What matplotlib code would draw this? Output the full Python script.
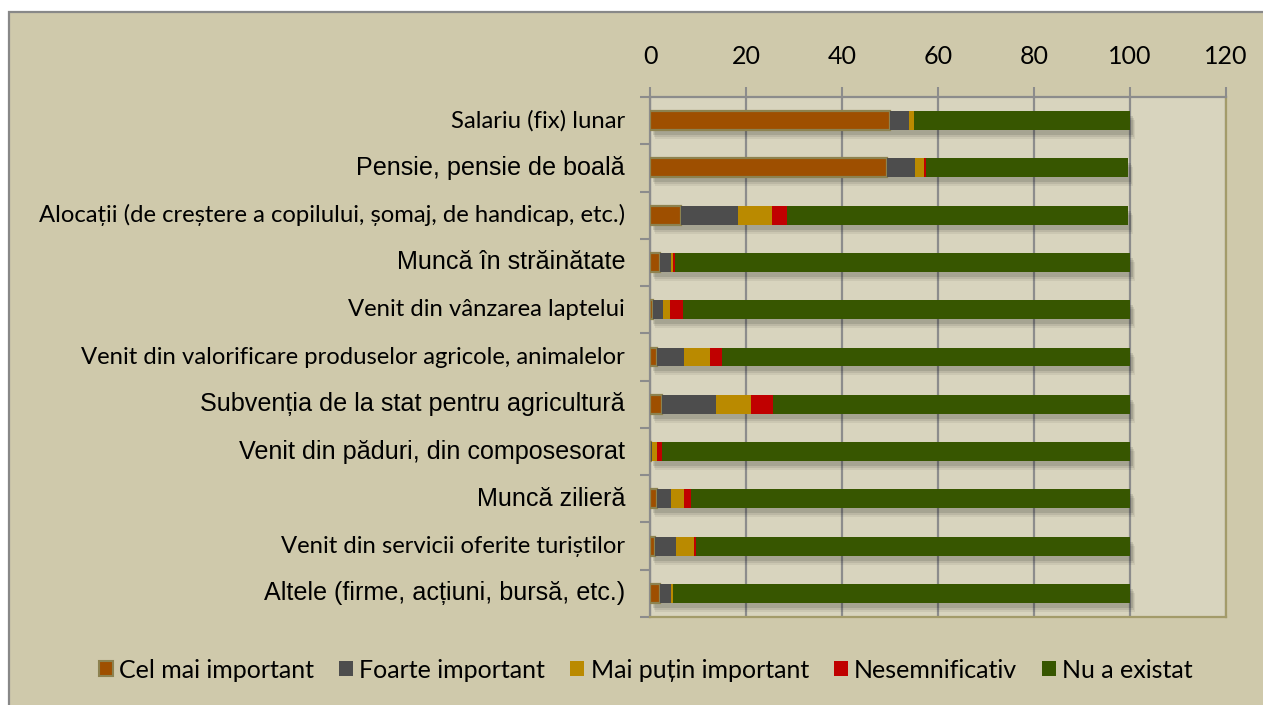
import matplotlib
matplotlib.use("Agg")
import matplotlib.pyplot as plt
import matplotlib.transforms as mtransforms
from matplotlib.patches import Rectangle, Patch
import numpy as np

categories = [
    "Salariu (fix) lunar",
    "Pensie, pensie de boală",
    "Alocații (de creștere a copilului, șomaj, de handicap, etc.)",
    "Muncă în străinătate",
    "Venit din vânzarea laptelui",
    "Venit din valorificare produselor agricole, animalelor",
    "Subvenția de la stat pentru agricultură",
    "Venit din păduri, din composesorat",
    "Muncă zilieră",
    "Venit din servicii oferite turiștilor",
    "Altele (firme, acțiuni, bursă, etc.)",
]
# which labels are set in the Arial-like face (others Calibri-like)
arial_labels = [False, True, False, True, False, False, True, True, True, False, True]

series_names = ["Cel mai important", "Foarte important", "Mai puțin important",
                "Nesemnificativ", "Nu a existat"]
cel_mai_important = [50.0, 49.4, 6.4, 2.1, 0.7, 1.4, 2.5, 0.2, 1.4, 1.0, 2.1]
foarte_important = [4.0, 5.9, 12.0, 2.3, 2.1, 5.7, 11.3, 0.2, 3.0, 4.4, 2.3]
mai_putin_important = [1.0, 1.7, 7.1, 0.3, 1.4, 5.4, 7.3, 1.0, 2.7, 3.8, 0.3]
nesemnificativ = [0.0, 0.4, 3.0, 0.5, 2.6, 2.6, 4.6, 1.0, 1.4, 0.3, 0.0]
nu_a_existat = [45.0, 42.2, 71.1, 94.8, 93.2, 84.9, 74.3, 97.6, 91.5, 90.5, 95.3]

xticks = [0, 20, 40, 60, 80, 100, 120]

colors = ["#9E4F00", "#4D4D4D", "#BA8A00", "#C00000", "#375600"]
outer_bg = "#CFC9AB"
plot_bg = "#D8D4BE"

W, H = 1263, 705
fig = plt.figure(figsize=(W / 100, H / 100), dpi=100)
fig.patch.set_facecolor("white")
# chart frame (white strip at top/left like the source; extends past right/bottom)
frame = Rectangle((9 / W, -0.1), 1.2, 1.1 - 12 / H, transform=fig.transFigure,
                  facecolor=outer_bg, edgecolor="#888888", linewidth=1.6, zorder=-10)
fig.patches.append(frame)

ax = fig.add_axes([650 / W, 1 - 617 / H, (1226 - 650) / W, (617 - 97) / H])
ax.set_facecolor(plot_bg)

series = [cel_mai_important, foarte_important, mai_putin_important, nesemnificativ, nu_a_existat]
y = np.arange(len(categories))
h = 0.40

# soft shadows
totals = np.sum(np.array(series), axis=0)
for k, (dx, dy, a) in enumerate([(0.03, -0.05, 0.10), (0.04, -0.07, 0.08), (0.05, -0.09, 0.06)]):
    tr = ax.transData + mtransforms.ScaledTranslation(dx, dy, fig.dpi_scale_trans)
    ax.barh(y, totals, height=h, left=0, color="black", alpha=a, transform=tr,
            zorder=2, linewidth=0)

left = np.zeros(len(categories))
for i, vals in enumerate(series):
    vals = np.array(vals)
    if i == 0:
        ax.barh(y, vals, height=h, left=left, color=colors[i], edgecolor="#8C8250",
                linewidth=1.6, zorder=3)
    else:
        ax.barh(y, vals, height=h, left=left, color=colors[i], linewidth=0, zorder=3)
    left += vals

ax.set_xlim(0, 120)
ax.set_ylim(len(categories) - 0.5, -0.5)
ax.set_xticks(xticks)
ax.xaxis.tick_top()
ax.tick_params(axis="x", which="major", length=7, width=1.5, color="#8C8C8C",
               pad=14, labelsize=18)
for lab in ax.get_xticklabels():
    lab.set_fontfamily("Lato")

ax.grid(axis="x", color="#8C8C8C", linewidth=1.6, zorder=1)
ax.set_axisbelow(True)

ax.set_yticks(y)
ax.set_yticklabels([])
ax.tick_params(axis="y", which="major", length=0, pad=0)
ax.set_yticks(np.arange(-0.5, len(categories) + 0.5, 1), minor=True)
ax.tick_params(axis="y", which="minor", length=7, width=1.5, color="#8C8C8C")

for yi, txt, is_arial in zip(y, categories, arial_labels):
    if is_arial:
        ax.text(-0.043, yi, txt, transform=ax.get_yaxis_transform(), ha="right",
                va="center", fontsize=18.1, fontfamily="Liberation Sans", color="black")
    else:
        ax.text(-0.043, yi, txt, transform=ax.get_yaxis_transform(), ha="right",
                va="center", fontsize=17.2, fontfamily="Lato", color="black")

for side in ["top", "left"]:
    ax.spines[side].set_color("#8C8C8C")
    ax.spines[side].set_linewidth(1.6)
for side in ["right", "bottom"]:
    ax.spines[side].set_color("#A39B6A")
    ax.spines[side].set_linewidth(1.6)

handles = []
for i, name in enumerate(series_names):
    if i == 0:
        handles.append(Patch(facecolor=colors[i], edgecolor="#8C8250", linewidth=1.5, label=name))
    else:
        handles.append(Patch(facecolor=colors[i], edgecolor="none", label=name))
leg = fig.legend(handles=handles, loc="center", bbox_to_anchor=(646 / W, 1 - 670 / H),
                 ncol=5, frameon=False, prop={"family": "Lato", "size": 18},
                 handlelength=0.56, handleheight=0.56, handletextpad=0.25, columnspacing=1.0)

fig.savefig("out.png", dpi=100, facecolor=fig.get_facecolor())
